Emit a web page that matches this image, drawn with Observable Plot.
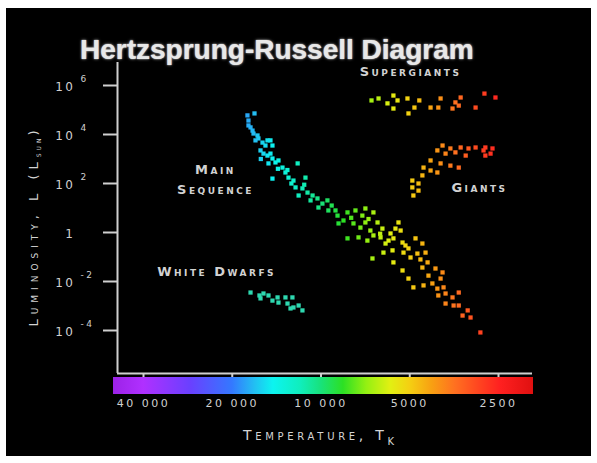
<!DOCTYPE html>
<html>
<head>
<meta charset="utf-8">
<script src="https://cdn.jsdelivr.net/npm/d3@7"></script>
<script src="https://cdn.jsdelivr.net/npm/@observablehq/plot@0.6"></script>
<style>
  html, body { margin: 0; padding: 0; background: #fff; width: 597px; height: 463px; overflow: hidden; }
  #frame { position: absolute; left: 6px; top: 8px; width: 585px; height: 448px; background: #000; overflow: hidden; }
  #chart svg { display: block; }
  #chart svg text { letter-spacing: 2.5px; }
  .title { position: absolute; left: 74px; top: 28px; font: bold 28px "Liberation Sans", Arial, sans-serif; line-height: 1;
           color: #e8e8e8; text-shadow: 0 0 3px #a0a0a0, 0 0 1px #fff; white-space: nowrap; }
  .xtitle { position: absolute; left: 237px; top: 420px; font: 14px "DejaVu Sans", sans-serif; font-variant: small-caps;
            letter-spacing: 3.7px; line-height: 1; color: #d4d4d4; white-space: nowrap; }
  .xtitle .sub { font-size: 10px; position: relative; top: 5px; letter-spacing: 0; }
  .ytitle { position: absolute; left: 27px; top: 218px; transform: translate(-50%, -50%) rotate(-90deg);
            font: 13px "DejaVu Sans", sans-serif; font-variant: small-caps; letter-spacing: 5px; line-height: 1;
            color: #d4d4d4; white-space: nowrap; }
  .ytitle .sub { font-size: 9px; position: relative; top: 3px; letter-spacing: 3px; }
</style>
</head>
<body>
<div id="frame">
  <div id="chart"></div>
  <div class="title">Hertzsprung-Russell Diagram</div>
  <div class="ytitle">Luminosity, L (L<span class="sub">sun</span>)</div>
  <div class="xtitle">Temperature, T<span class="sub">K</span></div>
</div>
<script>
// ---------- data (temperature in K, log10 luminosity in L_sun) ----------
const msT = [16810,17760,17620,17620,17340,17070,16940,16420,16300,16680,
  15790,14840,15430,16040,15670,15190,14840,14610,14270,13940,
  15070,13510,12000,13200,14610,12890,12400,11290,12200,11560,
  11110,10680,11910,10280,9890,9510,9440,10200,10850,8790,
  8390,8720,8130,7640,7070,6640,7760,7350,7070,6800,
  6430,6190,8130,7460,6960,6640,6280,6040,5460,6690,
  6140,5810,5680,5290,4780,4530,5250,4970,4710,4420,
  5680,5290,5050,4530,4350,4320,4090,3870,3930,4860,
  4490,4190,4030,3840,3780,4000,3580,3410,3780,3550,
  3410,3310,3180,3110,2880,
  5590,5900,5370,5170,7240,8930,14610,15190,5720,5050,
  13000,12600,11400,9200,7900,6300,16000,14000,6900,4600];
const msLogL = [4.86,4.78,4.57,4.37,4.29,4.16,4.04,3.96,3.84,3.76,
  3.67,3.76,3.55,3.35,3.22,3.14,3.22,3.02,2.86,2.94,
  2.82,2.65,2.82,2.45,2.20,2.24,2.12,2.24,1.84,1.80,
  1.63,1.51,1.51,1.39,1.18,1.31,0.90,1.02,1.31,0.69,
  0.49,0.37,0.82,0.90,0.98,0.82,0.37,0.20,0.41,0.08,
  0.41,0.16,-0.24,-0.20,-0.33,-0.12,-0.20,-0.45,0.41,-1.06,
  -0.82,-0.04,-0.24,-0.41,-0.24,-0.45,-0.82,-1.02,-0.86,-0.82,
  -1.22,-1.55,-1.88,-1.43,-1.22,-1.76,-1.47,-1.63,-1.88,-2.24,
  -2.16,-2.08,-2.29,-2.24,-2.49,-2.57,-2.65,-2.45,-2.90,-2.98,
  -2.98,-3.39,-3.18,-3.47,-4.08,
  0.16,-0.33,0.08,-0.53,0.69,0.90,3.55,3.76,-0.73,-0.65,
  2.55,2.00,1.95,1.10,0.60,-0.05,3.00,2.60,0.55,-1.10];

const sgT = [6740,6380,5950,5680,5500,5680,5090,4820,5050,4640,4250,4000,3930,3580,3500,3410,3360,2990,2790,2560];
const sgLogL = [5.39,5.47,5.27,5.59,5.39,5.06,5.47,5.10,4.86,5.39,5.10,5.10,5.47,5.06,5.31,5.18,5.51,5.10,5.67,5.51];

const gT = [3870,3640,3360,3160,2990,2810,2770,2770,4030,3780,3500,3230,4250,3930,3640,3410,4490,4250,4030,4530,4900,4670,4900,4670,4860,2620,2660];
const gLogL = [3.55,3.43,3.47,3.43,3.47,3.35,3.47,3.14,3.35,3.22,3.27,3.14,2.94,2.82,2.73,2.65,2.65,2.53,2.45,2.33,2.12,2.00,1.84,1.71,1.51,3.43,3.22];

const wdT = [17340,16170,15670,16040,15070,14610,14040,13940,13200,12990,12500,12400,11910,11560,12690];
const wdLogL = [-2.45,-2.57,-2.49,-2.69,-2.57,-2.78,-2.65,-2.86,-2.65,-2.90,-2.65,-3.06,-2.98,-3.18,-3.10];

const xTicks = [40000, 20000, 10000, 5000, 2500];
const xTickLabels = ["40 000", "20 000", "10 000", "5000", "2500"];
const yTicks = [6, 4, 2, 0, -2, -4];
const yTickBase = ["10", "10", "10", "1", "10", "10"];
const yTickExp = ["6", "4", "2", "", "-2", "-4"];

const annotText = ["Supergiants", "Giants", "Main", "Sequence", "White Dwarfs"];
const annotT = [4970, 2900, 22800, 22800, 22600];
const annotLogL = [6.57, 1.84, 2.57, 1.76, -1.59];

// colour of the temperature bar
const stopT = [50600, 40000, 27700, 20000, 16700, 14500, 11700, 10000, 8400, 7000, 5800, 5000, 4200, 3500, 2900, 2460, 1900];
const stopColor = ["#9c22e8", "#b030ff", "#6a40ff", "#3478ff", "#22c0f2", "#0cf4f0", "#10eebc", "#18e27c", "#2ce024",
  "#94f012", "#e2f012", "#f4d012", "#f8a012", "#ff7020", "#ff4420", "#ff2020", "#e01010"];

// ---------- layout ----------
const W = 585, H = 448;
const M = {left: 111, right: 59, top: 54, bottom: 83};
const xOpts = {type: "log", domain: [40000, 2500], range: [137, 492]};
const yOpts = {domain: [-4, 6], range: [322, 77]};
const xSc = Plot.scale({x: xOpts});
const ySc = Plot.scale({y: yOpts});
const axisT = xSc.invert(M.left), rightT = xSc.invert(W - M.right);
const axisL = ySc.invert(H - M.bottom), topL = ySc.invert(M.top);
const barT0 = xSc.invert(M.left - 4), barT1 = xSc.invert(W - M.right + 1);
const barTop = ySc.invert(H - M.bottom + 4), barBottom = ySc.invert(H - M.bottom + 21);

// ---------- build ----------
const toRows = (T, L) => T.map((t, i) => ({T: t, logL: L[i]}));
const mainSeq = toRows(msT, msLogL);
const superGiants = toRows(sgT, sgLogL);
const giants = toRows(gT, gLogL);
const whiteDwarfs = toRows(wdT, wdLogL);
const annotations = annotText.map((s, i) => ({label: s, T: annotT[i], logL: annotLogL[i]}));
const annotWidth = [148, 62, 42, 90, 130];
const xLabel = new Map(xTicks.map((t, i) => [t, xTickLabels[i]]));

const dotOpts = {x: "T", y: "logL", fill: "T", symbol: "square", r: 2.4};
const axisColor = "#cfcfcf";

const chart = Plot.plot({
  width: W, height: H,
  marginLeft: M.left, marginRight: M.right, marginTop: M.top, marginBottom: M.bottom,
  style: {background: "#000", color: axisColor, fontFamily: "DejaVu Sans", overflow: "visible"},
  x: xOpts,
  y: yOpts,
  color: {type: "log", domain: stopT, range: stopColor},
  marks: [
    Plot.rect([0], {x1: barT0, x2: barT1, y1: barBottom, y2: barTop, fill: "url(#tempGradient)"}),
    Plot.axisX({ticks: xTicks, tickSize: 4, tickPadding: 22, tickFormat: d => xLabel.get(d),
      label: null, strokeWidth: 2, fontSize: 11, fill: "#d0d0d0"}),
    Plot.axisY({ticks: yTicks, tickSize: 14, tickFormat: () => "", label: null, strokeWidth: 2}),
    Plot.ruleX([axisT], {y1: axisL, y2: topL, stroke: axisColor, strokeWidth: 2}),
    Plot.ruleY([axisL], {x1: axisT, x2: rightT, stroke: axisColor, strokeWidth: 2}),
    Plot.text(yTicks, {y: d => d, text: (d, i) => yTickBase[i], frameAnchor: "left", dx: -42, dy: 2,
      textAnchor: "end", fontSize: 12, fill: "#d0d0d0"}),
    Plot.text(yTicks, {y: d => d, text: (d, i) => yTickExp[i], frameAnchor: "left", dx: -37, dy: -6,
      textAnchor: "start", fontSize: 9, fill: "#d0d0d0"}),
    Plot.dot(mainSeq, dotOpts),
    Plot.dot(superGiants, dotOpts),
    Plot.dot(giants, dotOpts),
    Plot.dot(whiteDwarfs, {x: "T", y: "logL", fill: "#2ed8b0", symbol: "square", r: 2.4}),
    Plot.text(annotations, {x: "T", y: "logL", text: "label", fontVariant: "small-caps", fontSize: 13,
      fontWeight: "bold", fill: "#d2d2d2", ariaLabel: "annotation"})
  ]
});

document.getElementById("chart").appendChild(chart);

// gradient for the colour bar, positioned through the x scale
const svg = d3.select(chart);
const xs = chart.scale("x");
const gx0 = xs.apply(barT0), gx1 = xs.apply(barT1);
const grad = svg.insert("defs", ":first-child").append("linearGradient")
  .attr("id", "tempGradient").attr("gradientUnits", "userSpaceOnUse")
  .attr("x1", gx0).attr("x2", gx1).attr("y1", 0).attr("y2", 0);
stopT.forEach((t, i) => {
  grad.append("stop").attr("offset", (xs.apply(t) - gx0) / (gx1 - gx0)).attr("stop-color", stopColor[i]);
});

// stretch annotation lettering like the wide original typeface
svg.selectAll('g[aria-label="annotation"] text').each(function(d, i) {
  d3.select(this).attr("textLength", annotWidth[i]).attr("lengthAdjust", "spacingAndGlyphs").style("letter-spacing", "0px");
});
</script>
</body>
</html>
